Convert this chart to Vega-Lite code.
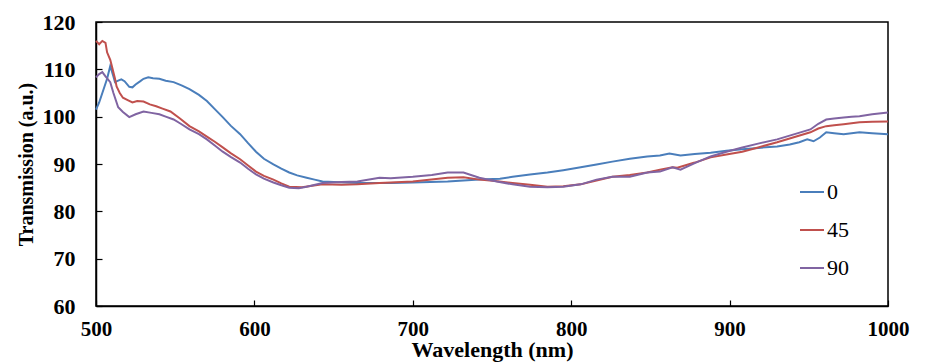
{
  "$schema": "https://vega.github.io/schema/vega-lite/v6.json",
  "autosize": "none",
  "width": 792,
  "height": 284,
  "padding": {"left": 96, "top": 22, "right": 38, "bottom": 56},
  "config": {
    "font": "Liberation Serif",
    "view": {"stroke": "#000", "strokeWidth": 1.5},
    "axis": {"grid": false, "domainColor": "#000", "domainWidth": 1.5, "tickColor": "#000", "tickWidth": 1.2, "labelFont": "Liberation Serif", "labelFontSize": 22, "labelFontWeight": "bold", "labelColor": "#000", "titleFont": "Liberation Serif", "titleFontWeight": "bold", "titleColor": "#000"},
    "legend": {"labelFont": "Liberation Serif"}
  },
  "datasets": {
    "spectra": [
      {"w":500,"t":101.5,"s":"0"},{"w":502,"t":103,"s":"0"},{"w":504,"t":105,"s":"0"},{"w":507,"t":108,"s":"0"},{"w":509,"t":110.7,"s":"0"},{"w":511,"t":108.5,"s":"0"},{"w":512,"t":107.3,"s":"0"},{"w":514,"t":107.6,"s":"0"},{"w":516,"t":107.9,"s":"0"},{"w":518,"t":107.5,"s":"0"},{"w":521,"t":106.3,"s":"0"},{"w":523,"t":106.2,"s":"0"},{"w":525,"t":106.8,"s":"0"},{"w":528,"t":107.5,"s":"0"},{"w":530,"t":108,"s":"0"},{"w":533,"t":108.3,"s":"0"},{"w":536,"t":108.1,"s":"0"},{"w":540,"t":108,"s":"0"},{"w":544,"t":107.6,"s":"0"},{"w":549,"t":107.3,"s":"0"},{"w":554,"t":106.6,"s":"0"},{"w":559,"t":105.8,"s":"0"},{"w":565,"t":104.6,"s":"0"},{"w":570,"t":103.3,"s":"0"},{"w":575,"t":101.6,"s":"0"},{"w":580,"t":99.9,"s":"0"},{"w":585,"t":98.1,"s":"0"},{"w":591,"t":96.3,"s":"0"},{"w":596,"t":94.4,"s":"0"},{"w":601,"t":92.6,"s":"0"},{"w":606,"t":91.1,"s":"0"},{"w":612,"t":89.9,"s":"0"},{"w":617,"t":89,"s":"0"},{"w":622,"t":88.2,"s":"0"},{"w":627,"t":87.6,"s":"0"},{"w":633,"t":87.1,"s":"0"},{"w":638,"t":86.7,"s":"0"},{"w":643,"t":86.3,"s":"0"},{"w":650,"t":86.2,"s":"0"},{"w":665,"t":86,"s":"0"},{"w":679,"t":86,"s":"0"},{"w":686,"t":86,"s":"0"},{"w":700,"t":86.1,"s":"0"},{"w":722,"t":86.3,"s":"0"},{"w":742,"t":86.7,"s":"0"},{"w":755,"t":86.9,"s":"0"},{"w":763,"t":87.3,"s":"0"},{"w":774,"t":87.8,"s":"0"},{"w":785,"t":88.2,"s":"0"},{"w":795,"t":88.7,"s":"0"},{"w":806,"t":89.3,"s":"0"},{"w":816,"t":89.9,"s":"0"},{"w":826,"t":90.5,"s":"0"},{"w":837,"t":91.1,"s":"0"},{"w":848,"t":91.6,"s":"0"},{"w":856,"t":91.8,"s":"0"},{"w":862,"t":92.2,"s":"0"},{"w":869,"t":91.8,"s":"0"},{"w":878,"t":92.1,"s":"0"},{"w":888,"t":92.4,"s":"0"},{"w":898,"t":92.8,"s":"0"},{"w":908,"t":93.1,"s":"0"},{"w":918,"t":93.4,"s":"0"},{"w":930,"t":93.7,"s":"0"},{"w":938,"t":94.1,"s":"0"},{"w":944,"t":94.6,"s":"0"},{"w":949,"t":95.2,"s":"0"},{"w":953,"t":94.8,"s":"0"},{"w":957,"t":95.6,"s":"0"},{"w":961,"t":96.7,"s":"0"},{"w":966,"t":96.5,"s":"0"},{"w":972,"t":96.3,"s":"0"},{"w":977,"t":96.5,"s":"0"},{"w":982,"t":96.7,"s":"0"},{"w":990,"t":96.5,"s":"0"},{"w":1000,"t":96.3,"s":"0"},

      {"w":500,"t":116,"s":"45"},{"w":502,"t":115.3,"s":"45"},{"w":504,"t":116,"s":"45"},{"w":506,"t":115.6,"s":"45"},{"w":507,"t":113.6,"s":"45"},{"w":509,"t":112,"s":"45"},{"w":510,"t":110.7,"s":"45"},{"w":512,"t":108,"s":"45"},{"w":513,"t":106.4,"s":"45"},{"w":515,"t":105,"s":"45"},{"w":517,"t":104,"s":"45"},{"w":520,"t":103.5,"s":"45"},{"w":523,"t":103,"s":"45"},{"w":526,"t":103.3,"s":"45"},{"w":530,"t":103.2,"s":"45"},{"w":534,"t":102.6,"s":"45"},{"w":538,"t":102.2,"s":"45"},{"w":542,"t":101.7,"s":"45"},{"w":547,"t":101.1,"s":"45"},{"w":553,"t":99.6,"s":"45"},{"w":559,"t":98,"s":"45"},{"w":565,"t":96.9,"s":"45"},{"w":570,"t":95.8,"s":"45"},{"w":575,"t":94.7,"s":"45"},{"w":580,"t":93.5,"s":"45"},{"w":585,"t":92.3,"s":"45"},{"w":591,"t":91,"s":"45"},{"w":596,"t":89.7,"s":"45"},{"w":601,"t":88.4,"s":"45"},{"w":606,"t":87.5,"s":"45"},{"w":612,"t":86.7,"s":"45"},{"w":617,"t":85.9,"s":"45"},{"w":622,"t":85.2,"s":"45"},{"w":630,"t":85.1,"s":"45"},{"w":643,"t":85.7,"s":"45"},{"w":655,"t":85.6,"s":"45"},{"w":665,"t":85.7,"s":"45"},{"w":679,"t":86,"s":"45"},{"w":700,"t":86.3,"s":"45"},{"w":722,"t":87.1,"s":"45"},{"w":732,"t":87.2,"s":"45"},{"w":742,"t":86.7,"s":"45"},{"w":752,"t":86.4,"s":"45"},{"w":763,"t":86,"s":"45"},{"w":774,"t":85.6,"s":"45"},{"w":785,"t":85.2,"s":"45"},{"w":795,"t":85.3,"s":"45"},{"w":806,"t":85.7,"s":"45"},{"w":816,"t":86.5,"s":"45"},{"w":826,"t":87.3,"s":"45"},{"w":837,"t":87.7,"s":"45"},{"w":848,"t":88.2,"s":"45"},{"w":856,"t":88.8,"s":"45"},{"w":864,"t":89.3,"s":"45"},{"w":867,"t":89.2,"s":"45"},{"w":878,"t":90.3,"s":"45"},{"w":888,"t":91.4,"s":"45"},{"w":898,"t":92,"s":"45"},{"w":908,"t":92.6,"s":"45"},{"w":918,"t":93.5,"s":"45"},{"w":930,"t":94.6,"s":"45"},{"w":940,"t":95.6,"s":"45"},{"w":951,"t":96.7,"s":"45"},{"w":956,"t":97.5,"s":"45"},{"w":961,"t":98,"s":"45"},{"w":966,"t":98.2,"s":"45"},{"w":972,"t":98.4,"s":"45"},{"w":977,"t":98.6,"s":"45"},{"w":982,"t":98.8,"s":"45"},{"w":990,"t":98.9,"s":"45"},{"w":1000,"t":99,"s":"45"},

      {"w":500,"t":108.3,"s":"90"},{"w":502,"t":109,"s":"90"},{"w":504,"t":109.4,"s":"90"},{"w":506,"t":108.5,"s":"90"},{"w":509,"t":107.3,"s":"90"},{"w":511,"t":105,"s":"90"},{"w":514,"t":102,"s":"90"},{"w":517,"t":101,"s":"90"},{"w":521,"t":99.9,"s":"90"},{"w":525,"t":100.5,"s":"90"},{"w":530,"t":101.1,"s":"90"},{"w":535,"t":100.8,"s":"90"},{"w":540,"t":100.5,"s":"90"},{"w":544,"t":100,"s":"90"},{"w":549,"t":99.4,"s":"90"},{"w":554,"t":98.4,"s":"90"},{"w":559,"t":97.3,"s":"90"},{"w":565,"t":96.3,"s":"90"},{"w":570,"t":95.2,"s":"90"},{"w":575,"t":93.9,"s":"90"},{"w":580,"t":92.6,"s":"90"},{"w":585,"t":91.5,"s":"90"},{"w":591,"t":90.3,"s":"90"},{"w":596,"t":89,"s":"90"},{"w":601,"t":87.8,"s":"90"},{"w":606,"t":86.9,"s":"90"},{"w":612,"t":86.1,"s":"90"},{"w":617,"t":85.5,"s":"90"},{"w":622,"t":85,"s":"90"},{"w":628,"t":84.9,"s":"90"},{"w":633,"t":85.2,"s":"90"},{"w":643,"t":86,"s":"90"},{"w":655,"t":86.2,"s":"90"},{"w":665,"t":86.3,"s":"90"},{"w":679,"t":87.1,"s":"90"},{"w":686,"t":87,"s":"90"},{"w":700,"t":87.3,"s":"90"},{"w":712,"t":87.7,"s":"90"},{"w":722,"t":88.2,"s":"90"},{"w":732,"t":88.2,"s":"90"},{"w":742,"t":87.1,"s":"90"},{"w":753,"t":86.3,"s":"90"},{"w":763,"t":85.7,"s":"90"},{"w":774,"t":85.2,"s":"90"},{"w":785,"t":85.1,"s":"90"},{"w":795,"t":85.2,"s":"90"},{"w":806,"t":85.7,"s":"90"},{"w":816,"t":86.7,"s":"90"},{"w":826,"t":87.3,"s":"90"},{"w":837,"t":87.3,"s":"90"},{"w":848,"t":88.2,"s":"90"},{"w":856,"t":88.4,"s":"90"},{"w":864,"t":89.3,"s":"90"},{"w":869,"t":88.8,"s":"90"},{"w":878,"t":90.2,"s":"90"},{"w":888,"t":91.6,"s":"90"},{"w":898,"t":92.6,"s":"90"},{"w":908,"t":93.5,"s":"90"},{"w":918,"t":94.3,"s":"90"},{"w":930,"t":95.2,"s":"90"},{"w":940,"t":96.2,"s":"90"},{"w":951,"t":97.3,"s":"90"},{"w":956,"t":98.5,"s":"90"},{"w":961,"t":99.4,"s":"90"},{"w":966,"t":99.6,"s":"90"},{"w":972,"t":99.8,"s":"90"},{"w":977,"t":100,"s":"90"},{"w":982,"t":100.1,"s":"90"},{"w":990,"t":100.5,"s":"90"},{"w":1000,"t":100.9,"s":"90"}
    ]
  },
  "data": {"name": "spectra"},
  "mark": {"type": "line", "strokeWidth": 2, "interpolate": "linear"},
  "encoding": {
    "x": {"field": "w", "type": "quantitative", "title": "Wavelength (nm)",
      "scale": {"domain": [500, 1000], "nice": false},
      "axis": {"values": [500, 600, 700, 800, 900, 1000], "format": "d", "labelFontSize": 21, "tickSize": -6, "labelPadding": 18, "titleFontSize": 22, "titlePadding": 0, "labelFlush": false}},
    "y": {"field": "t", "type": "quantitative", "title": "Transmission (a.u.)",
      "scale": {"domain": [60, 120], "nice": false, "zero": false},
      "axis": {"values": [60, 70, 80, 90, 100, 110, 120], "tickSize": -6, "labelPadding": 27, "titleFontSize": 20, "titlePadding": 6, "labelFlush": false}},
    "color": {"field": "s", "type": "nominal",
      "scale": {"domain": ["0", "45", "90"], "range": ["#4A7EBB", "#C0504D", "#8064A2"]},
      "legend": {"title": null, "orient": "none", "legendX": 703, "legendY": 157, "symbolType": "stroke", "symbolSize": 576, "symbolStrokeWidth": 2, "labelFontSize": 22, "labelFont": "Liberation Serif", "labelColor": "#000", "rowPadding": 14, "labelOffset": 2}}
  }
}
